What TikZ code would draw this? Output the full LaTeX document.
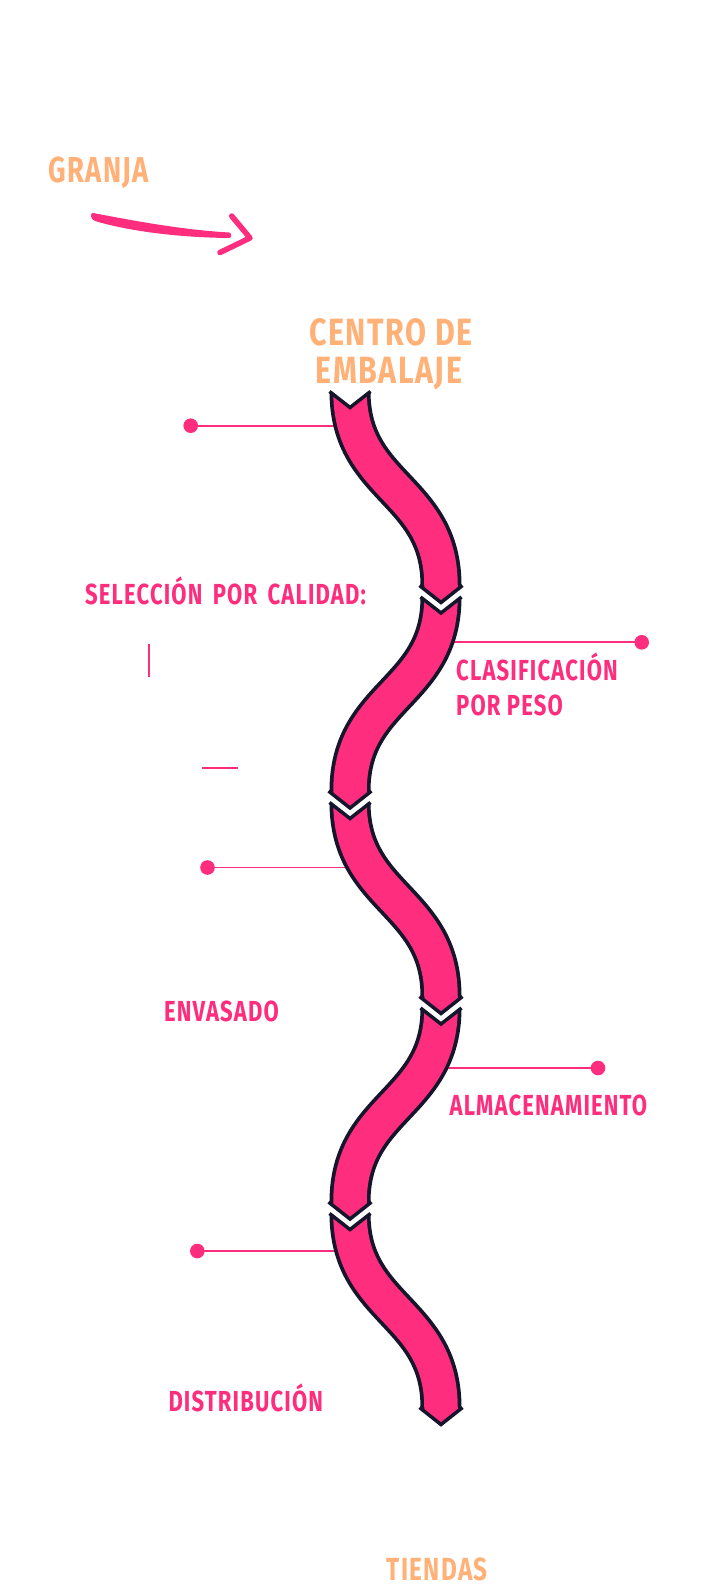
\documentclass[tikz,border=0pt]{standalone}
\usepackage{fontspec}
\setmainfont[FakeStretch=0.76,LetterSpace=4]{Fira Sans}
\newfontfamily\bigfont[FakeStretch=0.8,LetterSpace=4]{Fira Sans}
\definecolor{bandpink}{HTML}{FF2D7D}
\definecolor{peach}{HTML}{FFB178}
\definecolor{bandline}{HTML}{15152B}
\newcommand{\bandseg}[3]{%
  \begin{scope}
    \clip (#1-20.5,#3) -- (#1,#3+16) -- (#1+20.5,#3) -- (560,#3) -- (560,#3+194)
      -- (#2+21.5,#3+194) -- (#2,#3+211) -- (#2-21.5,#3+194) -- (250,#3+194) -- (250,#3) -- cycle;
    \draw[line width=41pt, draw=bandline] (#1,#3-6) -- (#1,#3) .. controls (#1,#3+97) and (#2,#3+97) .. (#2,#3+194) -- (#2,#3+216);
    \draw[line width=33.5pt, draw=bandpink] (#1,#3-6) -- (#1,#3) .. controls (#1,#3+97) and (#2,#3+97) .. (#2,#3+194) -- (#2,#3+216);
  \end{scope}
  \draw[vline] (#1-20.5,#3) -- (#1,#3+16) -- (#1+20.5,#3);
  \draw[vline] (#2-21.5,#3+194) -- (#2,#3+211) -- (#2+21.5,#3+194);
}
\begin{document}
\begin{tikzpicture}[x=1pt,y=-1pt,
  vline/.style={draw=bandline, line width=3.5pt, line join=miter, line cap=butt},
  peachtxt/.style={text=peach, font=\bfseries\fontsize{36}{38}\selectfont, inner sep=0pt},
  bigtxt/.style={text=peach, font=\bigfont\bfseries\fontsize{38}{40}\selectfont, inner sep=0pt},
  pinktxt/.style={text=bandpink, font=\bfseries\fontsize{29}{32}\selectfont, inner sep=0pt},
  dot/.style={circle, fill=bandpink, minimum size=14.6pt, inner sep=0pt},
  conn/.style={draw=bandpink, line width=1.8pt},
  tickline/.style={draw=bandpink, line width=1.8pt}]
\useasboundingbox (0,0) rectangle (714,1594);
\fill[white] (0,0) rectangle (714,1594);

% top labels and arrow
\node[peachtxt, anchor=base west] (granja) at (48,183) {GRANJA};
\fill[bandpink] (93,213) .. controls (140,222) and (185,230) .. (229,232.5)
  .. controls (232,233) and (232,238) .. (229,238)
  .. controls (180,237.5) and (130,231.5) .. (95,221)
  .. controls (90,219.5) and (90,212.5) .. (93,213) -- cycle;
\coordinate (ah1) at (231.7,216);
\coordinate (ahtip) at (250,238);
\coordinate (ah2) at (220,252.5);
\draw[draw=bandpink, line width=5.5pt, line cap=round, line join=round] (ah1) -- (ahtip) -- (ah2);

\node[bigtxt, anchor=base] (cen1) at (391,345) {CENTRO DE};
\node[bigtxt, anchor=base] (cen2) at (389,383.3) {EMBALAJE};
\node[peachtxt, font=\bfseries\fontsize{32}{34}\selectfont, anchor=base west] (tiendas) at (386.7,1580) {TIENDAS};

% connectors
\node[dot] (d1) at (190.7,425.7) {};
\coordinate (e1) at (352,425.7);
\draw[conn] (d1.center) -- (e1);
\node[dot] (d2) at (641.7,642.3) {};
\coordinate (e2) at (430,642.3);
\draw[conn] (d2.center) -- (e2);
\node[dot] (d3) at (207.5,867.5) {};
\coordinate (e3) at (362,867.5);
\draw[conn] (d3.center) -- (e3);
\node[dot] (d4) at (598,1068) {};
\coordinate (e4) at (430,1068);
\draw[conn] (d4.center) -- (e4);
\node[dot] (d5) at (197.3,1251) {};
\coordinate (e5) at (352,1251);
\draw[conn] (d5.center) -- (e5);

% small marks
\coordinate (m1a) at (148.7,644.3);
\coordinate (m1b) at (148.7,676.7);
\draw[tickline] (m1a) -- (m1b);
\coordinate (m2a) at (202.3,768.3);
\coordinate (m2b) at (237.7,768.3);
\draw[tickline] (m2a) -- (m2b);

% wave band
\bandseg{350}{441}{391.5}
\bandseg{441}{350}{597}
\bandseg{350}{441}{802.5}
\bandseg{441}{350}{1008}
\bandseg{350}{441}{1213.5}

% pink labels
\node[pinktxt, anchor=base west] (sel) at (85,604) {SELECCIÓN\hspace{4pt} POR\hspace{4pt} CALIDAD:};
\node[pinktxt, anchor=base west] (clas1) at (456,680) {CLASIFICACIÓN};
\node[pinktxt, anchor=base west] (clas2) at (456,715) {POR PESO};
\node[pinktxt, anchor=base west] (env) at (164,1021.7) {ENVASADO};
\node[pinktxt, anchor=base west] (alm) at (449.5,1115) {ALMACENAMIENTO};
\node[pinktxt, anchor=base west] (dist) at (168.3,1411.7) {DISTRIBUCIÓN};
\end{tikzpicture}
\end{document}
